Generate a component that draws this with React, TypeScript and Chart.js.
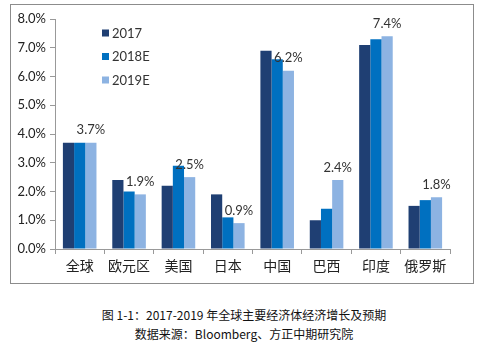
import React, { useEffect, useRef } from "react";
import { Chart, registerables } from "chart.js";

Chart.register(...registerables);

const categories = ["全球", "欧元区", "美国", "日本", "中国", "巴西", "印度", "俄罗斯"];
const seriesNames = ["2017", "2018E", "2019E"];
const v2017 = [3.7, 2.4, 2.2, 1.9, 6.9, 1.0, 7.1, 1.5];
const v2018 = [3.7, 2.0, 2.9, 1.1, 6.6, 1.4, 7.3, 1.7];
const v2019 = [3.7, 1.9, 2.5, 0.9, 6.2, 2.4, 7.4, 1.8];
const colors = ["#1F3F73", "#0070C0", "#8DB3E2"];
const captionLines = [
  "图 1-1：2017-2019 年全球主要经济体经济增长及预期",
  "数据来源：Bloomberg、方正中期研究院",
];

const labelPlugin = {
  id: "lastLabels",
  afterDatasetsDraw(chart: any) {
    const ctx = chart.ctx;
    const meta = chart.getDatasetMeta(2);
    ctx.save();
    ctx.font = "13px Lato, 'Open Sans', sans-serif";
    ctx.fillStyle = "#333";
    ctx.textAlign = "center";
    ctx.textBaseline = "bottom";
    meta.data.forEach((bar: any, i: number) => {
      ctx.fillText(v2019[i].toFixed(1) + "%", bar.x, bar.y - 6);
    });
    ctx.restore();
  },
};

const legendPlugin = {
  id: "customLegend",
  afterDraw(chart: any) {
    const ctx = chart.ctx;
    const area = chart.chartArea;
    ctx.save();
    ctx.font = "13px Lato, 'Open Sans', sans-serif";
    ctx.textBaseline = "middle";
    ctx.textAlign = "left";
    seriesNames.forEach((name, i) => {
      const y = area.top + 14 + i * 23.5;
      const x = area.left + 47;
      ctx.fillStyle = colors[i];
      ctx.fillRect(x, y - 3.5, 7, 7);
      ctx.fillStyle = "#333";
      ctx.fillText(name, x + 10, y + 0.5);
    });
    ctx.restore();
  },
};

export default function App() {
  const ref = useRef<HTMLCanvasElement>(null);
  useEffect(() => {
    const chart = new Chart(ref.current!, {
      type: "bar",
      data: {
        labels: categories,
        datasets: [
          { label: seriesNames[0], data: v2017, backgroundColor: colors[0] },
          { label: seriesNames[1], data: v2018, backgroundColor: colors[1] },
          { label: seriesNames[2], data: v2019, backgroundColor: colors[2] },
        ],
      },
      options: {
        animation: false,
        responsive: false,
        maintainAspectRatio: false,
        layout: { padding: { left: 0, right: 23, top: 14, bottom: 0 } },
        datasets: { bar: { categoryPercentage: 0.68, barPercentage: 1 } },
        plugins: { legend: { display: false }, tooltip: { enabled: false } },
        scales: {
          x: {
            grid: { drawOnChartArea: false, drawTicks: true, tickLength: 5, color: "#999", offset: true },
            border: { color: "#999" },
            ticks: { color: "#222", font: { size: 14, family: "'Noto Sans CJK SC'" }, padding: 3, maxRotation: 0 },
            afterFit(scale: any) { scale.height = 34; },
          },
          y: {
            min: 0,
            max: 8,
            grid: { drawOnChartArea: false, drawTicks: true, tickLength: 5, color: "#999" },
            border: { color: "#999" },
            ticks: {
              stepSize: 1,
              color: "#222",
              font: { size: 13, family: "Lato, 'Open Sans', sans-serif" },
              padding: 4,
              callback: (v: any) => Number(v).toFixed(1) + "%",
            },
            afterFit(scale: any) { scale.width = 44; },
          },
        },
      },
      plugins: [labelPlugin, legendPlugin],
    });
    return () => chart.destroy();
  }, []);

  return (
    <div style={{ position: "absolute", left: 0, top: 0, width: 488, height: 354, background: "#fff" }}>
      <div style={{ position: "absolute", left: 10, top: 4, width: 462, height: 278, border: "1px solid #8c8c8c" }}>
        <canvas ref={ref} width={462} height={278} style={{ display: "block" }} />
      </div>
      <div style={{ position: "absolute", left: 0, top: 305, width: 488, textAlign: "center", fontFamily: "'Noto Sans CJK SC', sans-serif", fontSize: 12, lineHeight: "19px", color: "#111" }}>
        {captionLines.map((l, i) => (
          <div key={i}>{l}</div>
        ))}
      </div>
    </div>
  );
}
